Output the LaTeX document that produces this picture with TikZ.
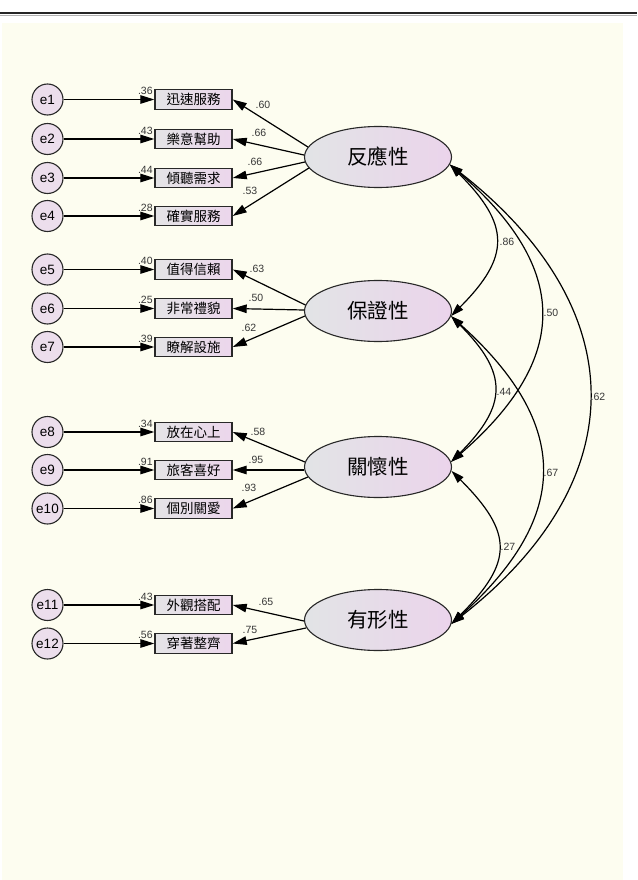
\documentclass[tikz,border=0pt]{standalone}
\usepackage{fontspec}
\setmainfont{Liberation Sans}
\newfontfamily\cjk{Noto Sans CJK TC}
\usetikzlibrary{arrows.meta,calc,shapes.geometric}
\definecolor{bg}{RGB}{253,253,240}
\definecolor{linec}{RGB}{40,40,40}
\definecolor{boxL}{RGB}{228,228,230}
\definecolor{boxR}{RGB}{236,214,236}
\definecolor{latL}{RGB}{226,228,230}
\definecolor{latR}{RGB}{235,212,235}
\definecolor{errfill}{RGB}{236,222,236}
\definecolor{numc}{RGB}{55,55,55}
\begin{document}
\begin{tikzpicture}[x=1pt,y=-1pt,
  errnode/.style={circle, draw=linec, line width=1.1pt, minimum size=31pt, inner sep=0pt, fill=errfill, font=\fontsize{13.5}{13.5}\selectfont},
  obsbox/.style={rectangle, draw=linec, line width=1.4pt, minimum width=77pt, minimum height=19.5pt, inner sep=0pt, left color=boxL, right color=boxR, font=\cjk\fontsize{13.5}{14}\selectfont},
  latent/.style={ellipse, draw=linec, line width=1.1pt, minimum width=147pt, minimum height=61pt, inner sep=0pt, left color=latL, right color=latR, font=\cjk\fontsize{20.5}{21}\selectfont},
  num/.style={font=\fontsize{10.5}{10.5}\selectfont, text=numc, inner sep=0pt},
  arr/.style={line width=1.2pt, draw=black, -{Triangle[length=14pt,width=8.5pt]}},
  cov/.style={line width=1.2pt, draw=black, {Triangle[length=13pt,width=8pt]}-{Triangle[length=13pt,width=8pt]}}
]
\useasboundingbox (0,0) rectangle (637,880);
\fill[white] (0,0) rectangle (637,880);
\fill[bg] (2,23) rectangle (623,880);
\draw[line width=1.6pt, black!85] (0,13) -- (637,13);
\draw[line width=0.8pt, gray!60] (0,15.2) -- (637,15.2);

% latent variables
\node[latent] (R) at (378,157) {反應性};
\node[latent] (B) at (378,311) {保證性};
\node[latent] (K) at (378,467) {關懷性};
\node[latent] (T) at (378,620) {有形性};

% observed boxes and error terms
\foreach \i/\y/\t in {1/99.5/迅速服務, 2/139/樂意幫助, 3/178/傾聽需求, 4/216/確實服務,
                      5/269.5/值得信賴, 6/308.5/非常禮貌, 7/347/瞭解設施,
                      8/432/放在心上, 9/470/旅客喜好, 10/508.5/個別關愛,
                      11/605/外觀搭配, 12/643.5/穿著整齊}{
  \node[obsbox] (o\i) at (193.5,\y) {\t};
  \node[errnode] (e\i) at (47.5,\y) {e\i};
  \draw[arr] (e\i) -- (o\i.west);
}

% squared multiple correlations
\foreach \i/\v in {1/.36, 2/.43, 3/.44, 4/.28, 5/.40, 6/.25, 7/.39, 8/.34, 9/.91, 10/.86, 11/.43, 12/.56}{
  \node[num] (r\i) at ($(o\i.west)+(-9,-8.5)$) {\v};
}

% loadings
\draw[arr] ($(R.west)+(4,-10)$) -- (o1.east);
\draw[arr] ($(R.west)+(0,-2)$) -- (o2.east);
\draw[arr] ($(R.west)+(1,5)$) -- (o3.east);
\draw[arr] ($(R.west)+(5,11)$) -- (o4.east);
\draw[arr] ($(B.west)+(1.5,-6)$) -- (o5.east);
\draw[arr] ($(B.west)+(0,-1)$) -- (o6.east);
\draw[arr] ($(B.west)+(1,5)$) -- (o7.east);
\draw[arr] ($(K.west)+(1,-5)$) -- (o8.east);
\draw[arr] ($(K.west)+(0,3)$) -- (o9.east);
\draw[arr] ($(K.west)+(4,10)$) -- (o10.east);
\draw[arr] ($(T.west)+(0,1)$) -- (o11.east);
\draw[arr] ($(T.west)+(2,8)$) -- (o12.east);

\node[num] (l1) at (263,105) {.60};
\node[num] (l2) at (259,133) {.66};
\node[num] (l3) at (255,162) {.66};
\node[num] (l4) at (250,191) {.53};
\node[num] (l5) at (257,269) {.63};
\node[num] (l6) at (256,298) {.50};
\node[num] (l7) at (249,328) {.62};
\node[num] (l8) at (258,432) {.58};
\node[num] (l9) at (256,460) {.95};
\node[num] (l10) at (249,488) {.93};
\node[num] (l11) at (266,602) {.65};
\node[num] (l12) at (250,630) {.75};

% covariances
\draw[cov] (R.-6) .. controls +(60,60) and +(60,-60) .. (B.-4);
\draw[cov] (R.-6) .. controls +(120,104) and +(120,-104) .. (K.4);
\draw[cov] (R.-6) .. controls +(184,144) and +(184,-144) .. (T.-3);
\draw[cov] (B.-4) .. controls +(57,57) and +(57,-57) .. (K.4);
\draw[cov] (B.-4) .. controls +(120,108) and +(120,-108) .. (T.-3);
\draw[cov] (K.-3) .. controls +(62,62) and +(62,-62) .. (T.-3);

\node[num] (c1) at (507,242) {.86};
\node[num] (c2) at (551,313) {.50};
\node[num] (c3) at (598,397) {.62};
\node[num] (c4) at (504,392) {.44};
\node[num] (c5) at (551,473) {.67};
\node[num] (c6) at (508,547) {.27};
\end{tikzpicture}
\end{document}
